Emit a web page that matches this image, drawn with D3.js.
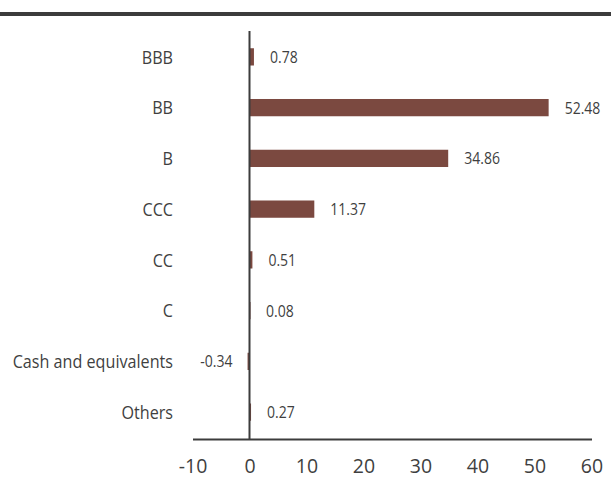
<!DOCTYPE html>
<html><head><meta charset="utf-8">
<script src="https://cdn.jsdelivr.net/npm/d3@7"></script>
<style>
body{margin:0;background:#fff;}
svg text{font-family:"Open Sans",sans-serif;fill:#3f3f3f;}
</style></head>
<body><svg id="c" width="611" height="479"></svg>
<script>
const categories = ["BBB","BB","B","CCC","CC","C","Cash and equivalents","Others"];
const values = [0.78,52.48,34.86,11.37,0.51,0.08,-0.34,0.27];
const labels = ["0.78","52.48","34.86","11.37","0.51","0.08","-0.34","0.27"];
const xTicks = [-10,0,10,20,30,40,50,60];

const svg = d3.select("#c");
svg.append("rect").attr("x",0).attr("y",12).attr("width",611).attr("height",4).attr("fill","#3c3c3c");

const x = d3.scaleLinear().domain([-10,60]).range([192.5,591.5]);
const y = d3.scaleBand().domain(categories).range([31.5,437.5]).paddingInner(0.66).paddingOuter(0.33);
const SX = 0.85;

// bars
svg.selectAll("rect.bar").data(values).join("rect").attr("class","bar")
  .attr("x",d=>x(Math.min(0,d)))
  .attr("width",d=>Math.max(1,Math.abs(x(d)-x(0))))
  .attr("y",(d,i)=>y(categories[i]))
  .attr("height",y.bandwidth())
  .attr("fill","#7b4940");

// value labels
svg.selectAll("text.val").data(values).join("text").attr("class","val")
  .attr("transform",(d,i)=>`translate(${d>=0? x(d)+16 : x(d)-15},${y(categories[i])+y.bandwidth()/2}) scale(${SX},1)`)
  .attr("dy","0.36em")
  .attr("text-anchor",d=>d>=0?"start":"end")
  .attr("font-size",16.5)
  .text((d,i)=>labels[i]);

// category labels
svg.selectAll("text.cat").data(categories).join("text").attr("class","cat")
  .attr("transform",d=>`translate(173,${y(d)+y.bandwidth()/2}) scale(${SX},1)`)
  .attr("dy","0.36em")
  .attr("text-anchor","end").attr("font-size",19).text(d=>d);

// zero line
svg.append("line").attr("x1",x(0)).attr("x2",x(0)).attr("y1",31).attr("y2",440)
  .attr("stroke","#3c3c3c").attr("stroke-width",2);

// x axis
const ax = svg.append("g").attr("transform","translate(0,439)")
  .call(d3.axisBottom(x).tickValues(xTicks).tickSize(0).tickPadding(20).tickFormat(d=>String(d)));
ax.select(".domain").attr("stroke","#3c3c3c").attr("stroke-width",2);
ax.selectAll("text").attr("font-size",19.5).attr("fill","#3f3f3f")
  .style("font-family",'"Open Sans",sans-serif');
</script></body></html>
